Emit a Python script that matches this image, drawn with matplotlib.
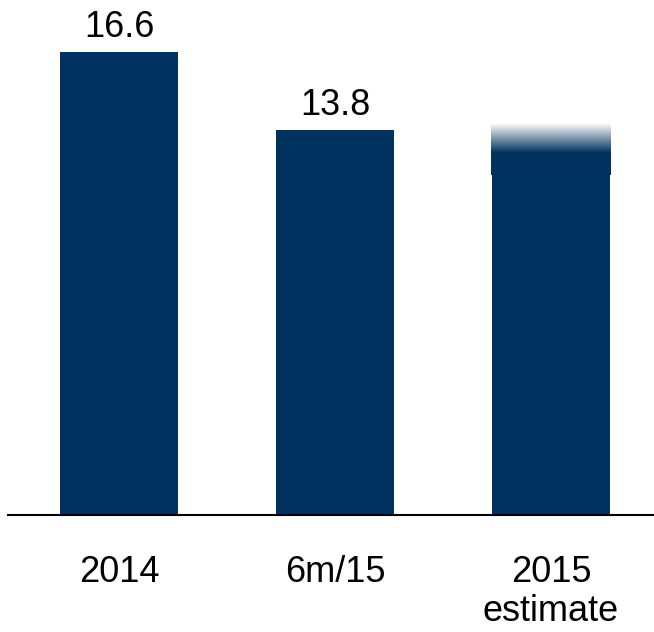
import numpy as np
import matplotlib.pyplot as plt
from matplotlib.colors import to_rgb

plt.rcParams['font.family'] = ['Liberation Sans', 'DejaVu Sans']

categories = ['2014', '6m/15', '2015\nestimate']
values = [16.6, 13.8, 12.2]
value_labels = ['16.6', '13.8', '']
# the estimate bar fades out between these two levels
fade_start = 13.0
fade_top = 14.05

navy = '#00325F'

fig = plt.figure(figsize=(6.54, 6.32), dpi=100)
ax = fig.add_axes([8 / 654, 117 / 632, 646 / 654, 515 / 632])

x = np.arange(len(categories))
width = 0.546
bars = ax.bar(x, values, width=width, color=navy, zorder=2)

for rect, lab in zip(bars, value_labels):
    if lab:
        ax.annotate(lab, (rect.get_x() + rect.get_width() / 2, rect.get_height()),
                    xytext=(0, 5), textcoords='offset points',
                    ha='center', va='bottom', fontsize=26, color='black')

# gradient cap on top of the estimate bar
est = bars[-1]
cap_w = width * 1.017
x0 = est.get_x() + est.get_width() / 2 - cap_w / 2
n = 200
levels = np.linspace(values[-1], fade_top, n)
alpha = np.clip((fade_top - levels) / (fade_top - fade_start), 0, 1)
img = np.zeros((n, 1, 4))
img[:, 0, :3] = to_rgb(navy)
img[:, 0, 3] = alpha
ax.imshow(img, extent=(x0, x0 + cap_w, values[-1], fade_top), origin='lower',
          aspect='auto', interpolation='bilinear', zorder=3)

ax.set_xlim(-0.514, 2.477)
ax.set_ylim(0, 18.46)

ax.set_xticks(x)
ax.set_xticklabels(categories, fontsize=26, linespacing=1.15)
ax.tick_params(axis='x', length=0, pad=29)
ax.set_yticks([])

for side in ['top', 'right', 'left']:
    ax.spines[side].set_visible(False)
ax.spines['bottom'].set_linewidth(1.5)
ax.spines['bottom'].set_color('black')

fig.savefig('out.png', dpi=100)
